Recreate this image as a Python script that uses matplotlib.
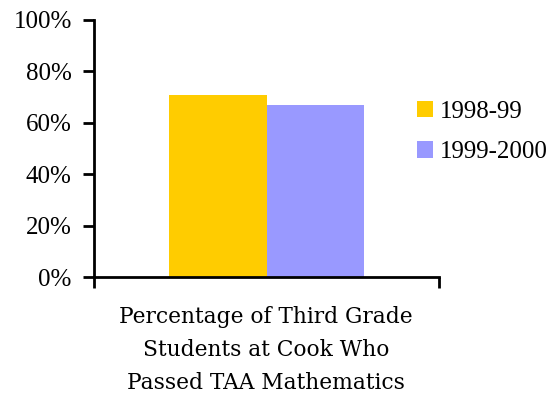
import matplotlib
matplotlib.use("Agg")
import matplotlib.pyplot as plt
import numpy as np

# Data
category = "Percentage of Third Grade\nStudents at Cook Who\nPassed TAA Mathematics"
series_names = ["1998-99", "1999-2000"]
series_values = [71, 67]
series_colors = ["#FFCC00", "#9999FF"]
y_ticks = [0, 20, 40, 60, 80, 100]

plt.rcParams["font.family"] = ["Liberation Serif"]

fig = plt.figure(figsize=(5.56, 4.03), dpi=100)
ax = fig.add_axes([94 / 556, 1 - 277 / 403, 345 / 556, 257 / 403])

bar_w = 0.284
offsets = [-bar_w / 2, bar_w / 2]
handles = []
for name, val, col, off in zip(series_names, series_values, series_colors, offsets):
    h = ax.bar(off, val, width=bar_w, color=col, label=name, zorder=2)
    handles.append(h)

ax.set_xlim(-0.5, 0.5)
ax.set_ylim(0, 100)
ax.set_yticks(y_ticks)
ax.set_yticklabels([f"{t}%" for t in y_ticks], fontsize=18)
ax.set_xticks([-0.5, 0.5])
ax.set_xticklabels(["", ""])
ax.tick_params(axis="both", direction="out", length=8, width=2, color="black")
ax.tick_params(axis="y", pad=8)

for s in ["top", "right"]:
    ax.spines[s].set_visible(False)
for s in ["left", "bottom"]:
    ax.spines[s].set_linewidth(2)

fig.text(266 / 556, 1 - 350 / 403, category, ha="center", va="center",
         fontsize=15.7, linespacing=1.62, family="DejaVu Serif")

fig.legend(handles=handles, labels=series_names, loc="center left",
           bbox_to_anchor=(394 / 556, 1 - 132 / 403), frameon=False,
           fontsize=18, handlelength=0.64, handleheight=0.64,
           handletextpad=0.3, labelspacing=0.75)

fig.savefig("out.png", dpi=100)
